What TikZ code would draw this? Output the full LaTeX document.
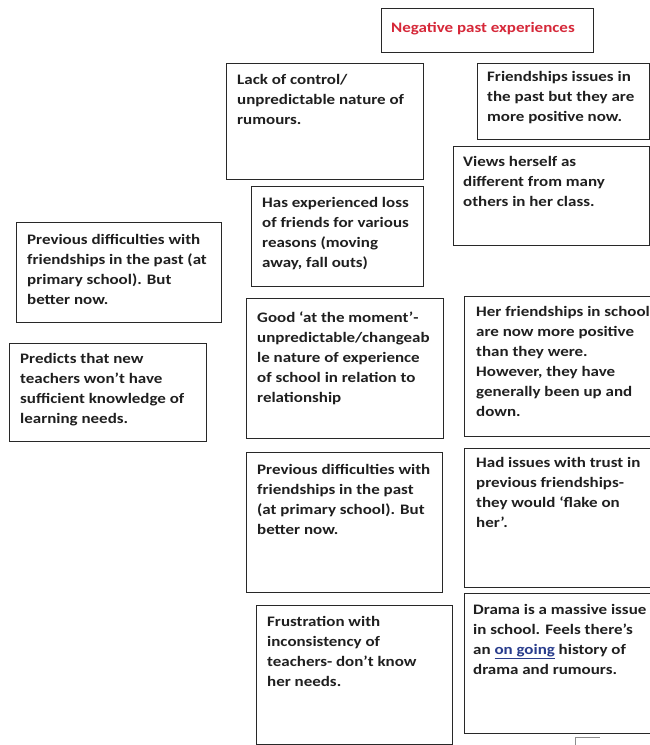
\documentclass[tikz,border=0pt]{standalone}
\usepackage{fontspec}
\setmainfont{Carlito}[FakeStretch=1.17]
\definecolor{titlered}{RGB}{214,40,57}
\definecolor{boxline}{RGB}{40,40,40}
\definecolor{linkblue}{RGB}{40,60,140}
\newcommand\cardtext[1]{\parbox[t]{250pt}{\raggedright #1}}
\tikzset{
  card/.style={draw=boxline, line width=1.1pt, fill=white, rectangle, inner sep=0pt, anchor=north west},
  txt/.style={anchor=base west, inner sep=0pt, font=\bfseries\fontsize{14.5}{20}\selectfont, text=black!88}
}
\begin{document}
\begin{tikzpicture}[x=1pt,y=-1pt]
\useasboundingbox (0,0) rectangle (650,745);
\clip (0,0) rectangle (650,745);
% boxes: name at (left,top), size
\node[card, minimum width=212pt, minimum height=44pt] (title) at (381,8) {};
\node[card, minimum width=197pt, minimum height=116pt] (lack) at (226,63) {};
\node[card, minimum width=172pt, minimum height=100pt] (loss) at (251,186) {};
\node[card, minimum width=172pt, minimum height=76pt] (fiss) at (477,63) {};
\node[card, minimum width=196pt, minimum height=99pt] (views) at (453,146) {};
\node[card, minimum width=205pt, minimum height=100pt] (prevl) at (16,222) {};
\node[card, minimum width=197pt, minimum height=98pt] (pred) at (9,343) {};
\node[card, minimum width=197pt, minimum height=140pt] (good) at (246,298) {};
\node[card, minimum width=196pt, minimum height=140pt] (prevm) at (246,452) {};
\node[card, minimum width=196pt, minimum height=139pt] (frus) at (256,605) {};
\node[card, minimum width=200pt, minimum height=140pt] (herf) at (464,296) {};
\node[card, minimum width=200pt, minimum height=139pt] (had) at (464,448) {};
\node[card, minimum width=200pt, minimum height=140pt] (drama) at (464,593) {};
% texts
\node[txt, text=titlered] (title-t) at (391,32) {\cardtext{Negative past experiences}};
\node[txt] (lack-t) at (237,84) {\cardtext{Lack of control/\\unpredictable nature of\\rumours.}};
\node[txt] (loss-t) at (262,207) {\cardtext{Has experienced loss\\of friends for various\\reasons (moving\\away, fall outs)}};
\node[txt] (fiss-t) at (487,81) {\cardtext{Friendships issues in\\the past but they are\\more positive now.}};
\node[txt] (views-t) at (463,166) {\cardtext{Views herself as\\different from many\\others in her class.}};
\node[txt] (prevl-t) at (27,244) {\cardtext{Previous difficulties with\\friendships in the past (at\\primary school). But\\better now.}};
\node[txt] (pred-t) at (20,363) {\cardtext{Predicts that new\\teachers won’t have\\sufficient knowledge of\\learning needs.}};
\node[txt] (good-t) at (257,322) {\cardtext{Good ‘at the moment’-\\unpredictable/changeab\\le nature of experience\\of school in relation to\\relationship}};
\node[txt] (prevm-t) at (257,474) {\cardtext{Previous difficulties with\\friendships in the past\\(at primary school). But\\better now.}};
\node[txt] (frus-t) at (267,626) {\cardtext{Frustration with\\inconsistency of\\teachers- don’t know\\her needs.}};
\node[txt] (herf-t) at (476,316) {\cardtext{Her friendships in school\\are now more positive\\than they were.\\However, they have\\generally been up and\\down.}};
\node[txt] (had-t) at (476,467) {\cardtext{Had issues with trust in\\previous friendships-\\they would ‘flake on\\her’.}};
\node[txt] (drama-t) at (473,614) {\cardtext{Drama is a massive issue\\in school. Feels there’s\\an \textcolor{linkblue}{\underline{on going}} history of\\drama and rumours.}};
% small fragment at the bottom edge
\draw[black!45, line width=1pt] (575,746) -- (575,737) -- (600,737);
\end{tikzpicture}
\end{document}
